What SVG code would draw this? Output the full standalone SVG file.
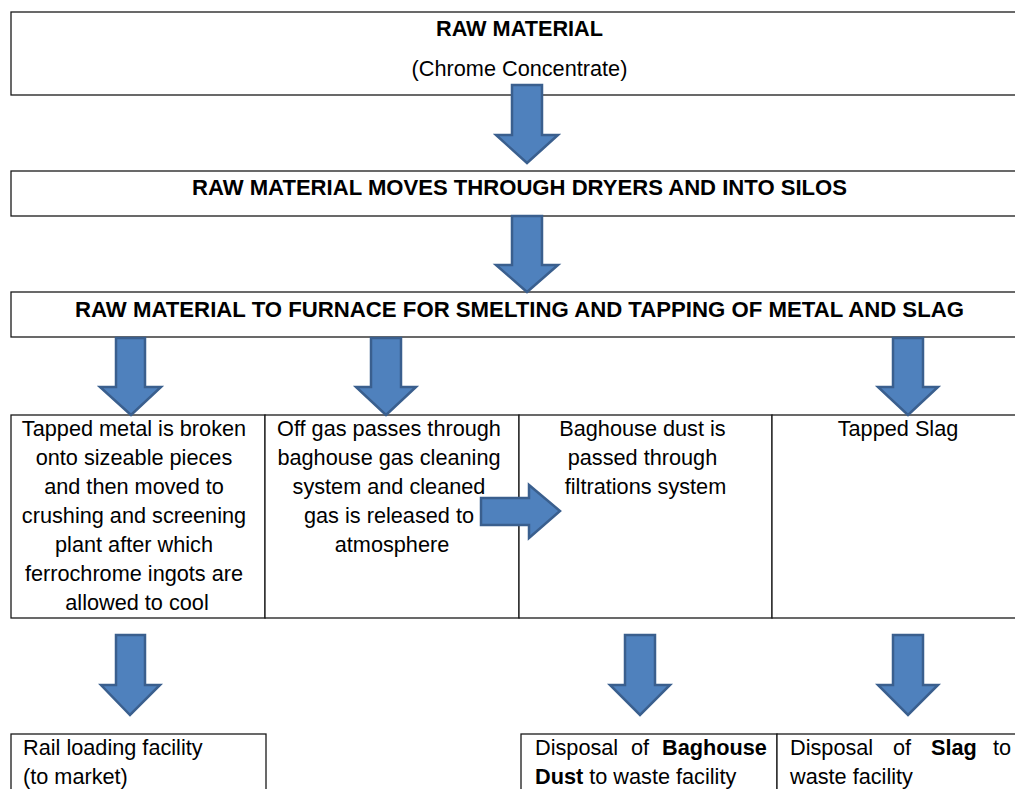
<svg xmlns="http://www.w3.org/2000/svg" width="1015" height="789" viewBox="0 0 1015 789">
<style>
.box{fill:#fff;stroke:#1a1a1a;stroke-width:1.3}
.t{font-family:"Liberation Sans",Arial,sans-serif;font-size:21.7px;fill:#000}
.b{font-weight:bold}
.c{text-anchor:middle}
.arr{fill:#4F81BD;stroke:#3A5F8E;stroke-width:2.5;stroke-linejoin:miter}
</style>
<rect width="1015" height="789" fill="#fff"/>
<g id="n1">
<rect class="box" x="11" y="12" width="1020" height="83"/>
<text class="t b c" x="519.5" y="36">RAW MATERIAL</text>
<text class="t c" x="519.5" y="76">(Chrome Concentrate)</text>
</g>
<g id="n2">
<rect class="box" x="11" y="171" width="1020" height="45"/>
<text class="t b c" x="519.5" y="195" textLength="655" lengthAdjust="spacingAndGlyphs">RAW MATERIAL MOVES THROUGH DRYERS AND INTO SILOS</text>
</g>
<g id="n3">
<rect class="box" x="11" y="292" width="1020" height="45"/>
<text class="t b c" x="519.5" y="317" textLength="889" lengthAdjust="spacingAndGlyphs">RAW MATERIAL TO FURNACE FOR SMELTING AND TAPPING OF METAL AND SLAG</text>
</g>
<g id="n4">
<rect class="box" x="11" y="415" width="254" height="203"/>
<text class="t c">
<tspan x="137" y="436">Tapped metal is broken</tspan>
<tspan x="137" y="465">onto sizeable pieces</tspan>
<tspan x="137" y="494">and then moved to</tspan>
<tspan x="137" y="523">crushing and screening</tspan>
<tspan x="137" y="552">plant after which</tspan>
<tspan x="137" y="581">ferrochrome ingots are</tspan>
<tspan x="137" y="610">allowed to cool</tspan>
</text>
</g>
<g id="n5">
<rect class="box" x="265" y="415" width="254" height="203"/>
<text class="t c">
<tspan x="392" y="436">Off gas passes through</tspan>
<tspan x="392" y="465">baghouse gas cleaning</tspan>
<tspan x="392" y="494">system and cleaned</tspan>
<tspan x="392" y="523">gas is released to</tspan>
<tspan x="392" y="552">atmosphere</tspan>
</text>
</g>
<g id="n6">
<rect class="box" x="519" y="415" width="253" height="203"/>
<text class="t c">
<tspan x="645.5" y="436">Baghouse dust is</tspan>
<tspan x="645.5" y="465">passed through</tspan>
<tspan x="645.5" y="494">filtrations system</tspan>
</text>
</g>
<g id="n7">
<rect class="box" x="772" y="415" width="260" height="203"/>
<text class="t c" x="898" y="436">Tapped Slag</text>
</g>
<g id="n8">
<rect class="box" x="11" y="734" width="255" height="70"/>
<text class="t" x="23" y="755">Rail loading facility</text>
<text class="t" x="23" y="784">(to market)</text>
</g>
<g id="n9">
<rect class="box" x="521" y="734" width="256" height="70"/>
<text class="t" x="535" y="755">Disposal</text>
<text class="t" x="631" y="755">of</text>
<text class="t b" x="662" y="755">Baghouse</text>
<text class="t" y="784"><tspan x="535" class="b">Dust</tspan> to waste facility</text>
</g>
<g id="n10">
<rect class="box" x="777" y="734" width="260" height="70"/>
<text class="t" x="790" y="755">Disposal</text>
<text class="t" x="893" y="755">of</text>
<text class="t b" x="931" y="755">Slag</text>
<text class="t" x="993" y="755">to</text>
<text class="t" x="790" y="784">waste facility</text>
</g>
<g id="connectors">
<polygon class="arr" points="512,85 542,85 542,135 558,135 527,163 496,135 512,135"/>
<polygon class="arr" points="512,216 542,216 542,265 558,265 527,292 496,265 512,265"/>
<polygon class="arr" points="116,338 145,338 145,387 161,387 131,415 100,387 116,387"/>
<polygon class="arr" points="371,338 401,338 401,387 416,387 386,415 356,387 371,387"/>
<polygon class="arr" points="893,338 923,338 923,387 938,387 908,415 878,387 893,387"/>
<polygon class="arr" points="481,498 529,498 529,485 560,511 529,538 529,525 481,525"/>
<polygon class="arr" points="116,635 145,635 145,685 160,685 130,715 101,685 116,685"/>
<polygon class="arr" points="625,635 655,635 655,685 670,685 640,715 610,685 625,685"/>
<polygon class="arr" points="893,635 923,635 923,685 938,685 908,715 878,685 893,685"/>
</g>
</svg>
